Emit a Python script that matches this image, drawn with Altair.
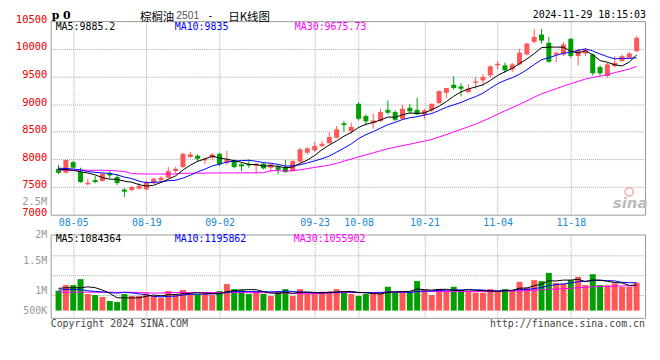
import json
import altair as alt
import pandas as pd

# ---------------- data ----------------
dates = [
    "2024-08-01", "2024-08-02", "2024-08-05", "2024-08-06", "2024-08-07", "2024-08-08", "2024-08-09",
    "2024-08-12", "2024-08-13", "2024-08-14", "2024-08-15", "2024-08-16",
    "2024-08-19", "2024-08-20", "2024-08-21", "2024-08-22", "2024-08-23",
    "2024-08-26", "2024-08-27", "2024-08-28", "2024-08-29", "2024-08-30",
    "2024-09-02", "2024-09-03", "2024-09-04", "2024-09-05", "2024-09-06",
    "2024-09-09", "2024-09-10", "2024-09-11", "2024-09-12", "2024-09-13",
    "2024-09-18", "2024-09-19", "2024-09-20",
    "2024-09-23", "2024-09-24", "2024-09-25", "2024-09-26", "2024-09-27", "2024-09-30",
    "2024-10-08", "2024-10-09", "2024-10-10", "2024-10-11",
    "2024-10-14", "2024-10-15", "2024-10-16", "2024-10-17", "2024-10-18",
    "2024-10-21", "2024-10-22", "2024-10-23", "2024-10-24", "2024-10-25",
    "2024-10-28", "2024-10-29", "2024-10-30", "2024-10-31", "2024-11-01",
    "2024-11-04", "2024-11-05", "2024-11-06", "2024-11-07", "2024-11-08",
    "2024-11-11", "2024-11-12", "2024-11-13", "2024-11-14", "2024-11-15",
    "2024-11-18", "2024-11-19", "2024-11-20", "2024-11-21", "2024-11-22",
    "2024-11-25", "2024-11-26", "2024-11-27", "2024-11-28", "2024-11-29",
]

opens = [7830, 7760, 7950, 7775, 7550, 7625, 7610, 7755, 7680, 7455,
         7445, 7470, 7457, 7566, 7625, 7667, 7790, 7861, 8042, 8065,
         7982, 8029, 8100, 7940, 7980, 7910, 7920, 7879, 7920, 7848,
         7861, 7848, 7788, 7957, 8120, 8163, 8241, 8290, 8391, 8652,
         8512, 9005, 8783, 8656, 8692, 8897, 8855, 8734, 8933, 8897,
         8814, 8886, 9018, 9205, 9349, 9320, 9217, 9386, 9428, 9519,
         9700, 9700, 9628, 9718, 9897, 10126, 10257, 10108, 9892, 9897,
         10180, 9868, 9916, 9898, 9670, 9508, 9688, 9779, 9838, 9958]
highs = [7900, 7995, 7970, 7850, 7650, 7700, 7760, 7790, 7730, 7475,
         7517, 7577, 7620, 7670, 7698, 7860, 7866, 8120, 8138, 8090,
         8029, 8108, 8120, 8150, 8000, 7938, 8000, 7938, 7938, 7915,
         7909, 7987, 7987, 8210, 8223, 8313, 8331, 8494, 8603, 8693,
         8662, 9036, 8814, 8825, 8915, 9067, 8886, 8987, 9005, 9114,
         8915, 9010, 9248, 9295, 9500, 9380, 9356, 9489, 9537, 9700,
         9778, 9748, 9748, 10000, 10108, 10360, 10360, 10216, 9958, 10120,
         10198, 10000, 10018, 9916, 9700, 9748, 9868, 9900, 9940, 10228]
lows = [7730, 7740, 7835, 7575, 7530, 7565, 7595, 7655, 7535, 7320,
        7425, 7457, 7440, 7560, 7607, 7656, 7747, 7848, 8029, 7951,
        7920, 8000, 7880, 7897, 7837, 7788, 7848, 7740, 7819, 7776,
        7728, 7757, 7788, 7938, 8090, 8138, 8223, 8290, 8380, 8500,
        8463, 8705, 8614, 8553, 8674, 8814, 8692, 8716, 8825, 8810,
        8734, 8850, 9005, 9114, 9259, 9139, 9199, 9277, 9338, 9476,
        9627, 9568, 9580, 9700, 9880, 10095, 10095, 9748, 9760, 9868,
        9838, 9700, 9868, 9520, 9508, 9478, 9658, 9760, 9820, 9940]
closes = [7757, 7990, 7850, 7590, 7578, 7590, 7740, 7710, 7570, 7415,
          7500, 7517, 7577, 7650, 7667, 7788, 7830, 8100, 8090, 8011,
          8011, 8090, 7910, 8000, 7860, 7873, 7891, 7920, 7837, 7909,
          7812, 7770, 7969, 8180, 8199, 8241, 8282, 8404, 8543, 8621,
          8585, 8734, 8687, 8705, 8855, 8843, 8716, 8915, 8868, 8814,
          8886, 9005, 9235, 9290, 9290, 9277, 9277, 9411, 9489, 9682,
          9729, 9610, 9718, 9928, 10095, 10216, 10149, 9766, 9928, 10077,
          9868, 9976, 9976, 9556, 9556, 9718, 9748, 9868, 9916, 10198]
volumes = [1000000, 1095000, 1095000, 1195000, 945000, 928000, 895000, 828000, 812000, 945000,
           912000, 912000, 957000, 912000, 883000, 995000, 945000, 1012000, 945000, 945000,
           945000, 928000, 995000, 1112000, 1028000, 1012000, 945000, 995000, 945000, 912000,
           984000, 1028000, 912000, 1028000, 945000, 945000, 984000, 984000, 1028000, 995000,
           945000, 912000, 945000, 967000, 967000, 1067000, 967000, 967000, 984000, 1162000,
           1012000, 928000, 1028000, 995000, 1067000, 1012000, 995000, 967000, 967000, 1028000,
           995000, 1028000, 1012000, 1150000, 1050000, 1178000, 1162000, 1300000, 1133000, 1123000,
           1178000, 1233000, 1095000, 1278000, 1095000, 1095000, 1123000, 1067000, 1067000, 1133000]

# moving-average values before enough history exists
price_ma5_head = [7820, 7815, 7800, 7775]
price_ma10_head = [7840, 7835, 7825, 7810, 7780, 7765, 7755, 7745, 7720]
price_ma30_head = [7805, 7805, 7804, 7804, 7803, 7803, 7802, 7800, 7790, 7780,
                   7745, 7736, 7735, 7735, 7734, 7734, 7736, 7748, 7750, 7750,
                   7751, 7754, 7755, 7755, 7756, 7756, 7757, 7757, 7758]
vol_ma5_head = [1040000, 1050000, 1050000, 1050000]
vol_ma10_head = [1010000, 1020000, 1020000, 1020000, 1000000, 990000, 980000, 970000, 960000]
vol_ma30_head = [978000, 977000, 977000, 976000, 976000, 975000, 975000, 975000, 974000, 974000,
                 973000, 972000, 966000, 960000, 960000, 968000, 972000, 972000, 972000, 971000,
                 971000, 970000, 970000, 969000, 969000, 968000, 968000, 967000, 967000]

tick_dates = ["2024-08-05", "2024-08-19", "2024-09-02", "2024-09-23",
              "2024-10-08", "2024-10-21", "2024-11-04", "2024-11-18"]
price_ticks = [7000, 7500, 8000, 8500, 9000, 9500, 10000, 10500]
price_legend = ["MA5:9885.2", "MA10:9835", "MA30:9675.73"]
vol_legend = ["MA5:1084364", "MA10:1195862", "MA30:1055902"]
title_parts = ["p 0", "棕榈油", "2501", "-", "日K线图"]
timestamp = "2024-11-29 18:15:03"
footer_left = "Copyright 2024 SINA.COM"
footer_right = "http://finance.sina.com.cn"

# ---------------- derived table ----------------
def moving(values, n, head):
    s = pd.Series(values, dtype=float).rolling(n).mean().tolist()
    return list(head) + s[len(head):]

df = pd.DataFrame({
    "i": list(range(len(dates))),
    "date": dates,
    "open": opens, "high": highs, "low": lows, "close": closes,
    "volume": volumes,
})
df["ma5"] = moving(closes, 5, price_ma5_head)
df["ma10"] = moving(closes, 10, price_ma10_head)
df["ma30"] = moving(closes, 30, price_ma30_head)
df["vma5"] = moving(volumes, 5, vol_ma5_head)
df["vma10"] = moving(volumes, 10, vol_ma10_head)
df["vma30"] = moving(volumes, 30, vol_ma30_head)

# ---------------- style ----------------
W, PH, VH = 599, 195, 84
RED = "#ff5757"
GREEN = "#00a000"
BLUE = "#0000ff"
MAGENTA = "#ff00ff"
GRID = "#aaaaaa"
DATEBLUE = "#1a88d8"
MONO = "DejaVu Sans Mono"
CJK = "Noto Sans CJK SC"

n = len(dates)
xscale = alt.Scale(domain=[-0.4, n - 0.53], nice=False, zero=False)
tick_idx = [dates.index(d) for d in tick_dates]
mmdd = [d[5:] for d in dates]
x_label_expr = json.dumps(mmdd) + "[datum.value]"

x_axis_price = alt.Axis(values=tick_idx, labelExpr=x_label_expr, grid=True, gridColor=GRID,
                        gridDash=[1, 1], ticks=False, domain=False, labelColor=DATEBLUE,
                        labelFont=MONO, labelFontSize=10, labelPadding=3, labelFlush=False,
                        labelOverlap=False, title=None)
x_axis_vol = alt.Axis(values=tick_idx, labels=False, grid=True, gridColor=GRID, gridDash=[1, 1],
                      ticks=False, domain=False, title=None)

PRICE_VOL_LABEL = 7210
py_scale = alt.Scale(domain=[7000, 10500], nice=False, zero=False)
py_axis = alt.Axis(
    values=price_ticks + [PRICE_VOL_LABEL],
    labelExpr=f"datum.value == {PRICE_VOL_LABEL} ? '2.5M' : format(datum.value, 'd')",
    labelColor={"condition": {"test": f"datum.value == {PRICE_VOL_LABEL}", "value": "#999999"},
                "value": "#ee0000"},
    gridOpacity={"condition": {"test": f"datum.value == {PRICE_VOL_LABEL} || datum.value == 7000 || datum.value == 10500",
                               "value": 0}, "value": 1},
    grid=True, gridColor=GRID, gridDash=[1, 1], ticks=False, domain=False,
    labelFont=MONO, labelFontSize=10.5, labelOffset=-2, labelPadding=4,
    labelOverlap=False, title=None)

# volume scale: 1M sits 56.7px below the panel top, 500K per 30px
V_LO, V_HI = 545000, 1945000
V_BASE = 667000
vol_grid_vals = [928000, 1262000, 1595000]
vy_scale = alt.Scale(domain=[V_LO, V_HI], nice=False, zero=False)
vy_axis = alt.Axis(
    values=[V_BASE, 1000000, 1500000, V_HI] + vol_grid_vals,
    labelExpr=(f"datum.value == {V_HI} ? '2M' : datum.value == 1500000 ? '1.5M' : "
               f"datum.value == 1000000 ? '1M' : datum.value == {V_BASE} ? '500K' : ''"),
    gridOpacity={"condition": {"test": " || ".join(f"datum.value == {v}" for v in vol_grid_vals),
                               "value": 1}, "value": 0},
    grid=True, gridColor=GRID, gridDash=[1, 1], ticks=False, domain=False,
    labelFont=MONO, labelFontSize=10, labelColor="#999999", labelPadding=4,
    labelOverlap=False, title=None)

candle_color = alt.condition("datum.close >= datum.open", alt.value(RED), alt.value(GREEN))


def text_layer(text, x, y, color, size=10, font=MONO, align="left", baseline="middle",
               weight="normal", style="normal"):
    return alt.Chart(alt.Data(values=[{"t": text}])).mark_text(
        align=align, baseline=baseline, font=font, fontSize=size, fontWeight=weight,
        fontStyle=style, color=color).encode(x=alt.value(x), y=alt.value(y), text="t:N")


# ---------------- price panel ----------------
base = alt.Chart(df)
xp = alt.X("i:Q", scale=xscale, axis=x_axis_price)
wicks = base.mark_rule(strokeWidth=1).encode(
    x=xp, y=alt.Y("low:Q", scale=py_scale, axis=py_axis), y2="high:Q", color=candle_color)
bodies = base.mark_bar(size=5).encode(
    x=xp, y=alt.Y("open:Q", scale=py_scale, axis=py_axis), y2="close:Q", color=candle_color)
pm = [base.mark_line(color=c, strokeWidth=1).encode(
    x=xp, y=alt.Y(f"{f}:Q", scale=py_scale, axis=py_axis))
    for f, c in [("ma30", MAGENTA), ("ma10", BLUE), ("ma5", "black")]]

price_texts = [
    text_layer(price_legend[0], 5, 5.5, "black"),
    text_layer(price_legend[1], 125, 5.5, BLUE),
    text_layer(price_legend[2], 246, 5.5, MAGENTA),
    text_layer(title_parts[0], 1, -11, "black", size=11, font="DejaVu Serif", baseline="top", weight="bold"),
    text_layer(title_parts[1], 90, -9.6, "black", size=11.5, font=CJK, baseline="top"),
    text_layer(title_parts[2], 126.5, -10, "#555555", size=10.5, font="Liberation Sans", baseline="top"),
    text_layer(title_parts[3], 158, -10.5, "black", size=10, font=MONO, baseline="top"),
    text_layer(title_parts[4], 179, -9.6, "black", size=11.5, font=CJK, baseline="top"),
    text_layer(timestamp, W + 1, -11, "black", size=10, align="right", baseline="top"),
    text_layer("sina", 584, 183, "#bbbbbb", size=15, font="DejaVu Sans", align="center",
               weight="bold", style="italic"),
]
logo_eye = alt.Chart(alt.Data(values=[{"t": 1}])).mark_point(
    shape="circle", size=70, filled=False, color="#f3a5a5", strokeWidth=2).encode(
    x=alt.value(583), y=alt.value(172))

price = alt.layer(wicks, bodies, *pm, *price_texts, logo_eye).properties(width=W, height=PH)

# ---------------- volume panel ----------------
xv = alt.X("i:Q", scale=xscale, axis=x_axis_vol)
vbars = base.mark_bar(size=6).encode(
    x=xv, y=alt.Y("volume:Q", scale=vy_scale, axis=vy_axis), y2=alt.datum(V_BASE), color=candle_color)
vm = [base.mark_line(color=c, strokeWidth=1).encode(
    x=xv, y=alt.Y(f"{f}:Q", scale=vy_scale, axis=vy_axis))
    for f, c in [("vma30", MAGENTA), ("vma10", BLUE), ("vma5", "black")]]
vol_texts = [
    text_layer(vol_legend[0], 5, 4.7, "black"),
    text_layer(vol_legend[1], 125, 4.7, BLUE),
    text_layer(vol_legend[2], 245, 4.7, MAGENTA),
    text_layer(footer_left, 0, VH + 6, "#444444"),
    text_layer(footer_right, W, VH + 6, "#444444", align="right"),
]
volume = alt.layer(vbars, *vm, *vol_texts).properties(width=W, height=VH)

chart = alt.vconcat(price, volume, spacing=20, bounds="flush").properties(
    padding={"left": 6, "top": 0, "right": 4, "bottom": 0},
    background="white",
).configure_view(stroke="#999999", strokeWidth=1)

chart.save("out.html", embed_options={"renderer": "svg", "actions": False})
